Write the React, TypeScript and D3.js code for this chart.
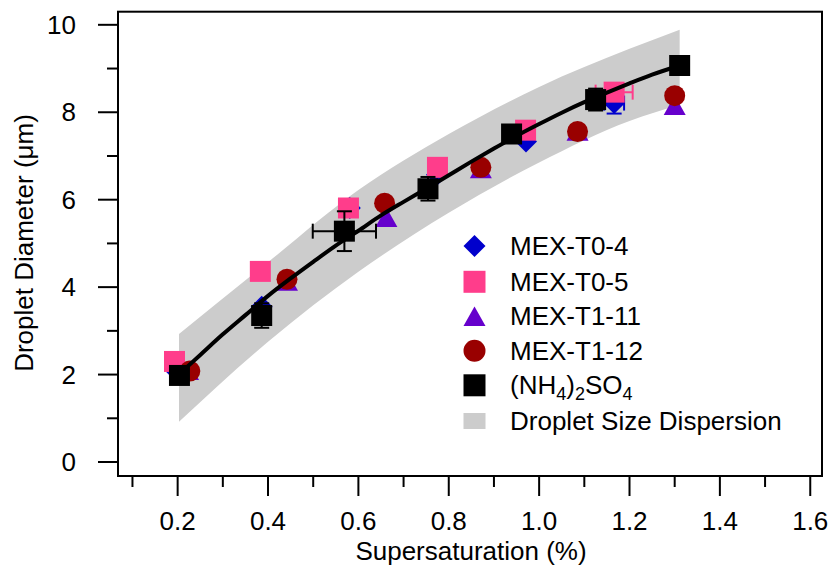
import React from "react";
import * as d3 from "d3";

// Supersaturation (%) and droplet diameter (µm) for each sample
const t04S = [0.199, 0.386, 0.581, 0.774, 0.971, 1.166];
const t04D = [2.06, 3.55, 5.81, 6.57, 7.33, 8.21];
const t04XErr = [0, 0, 0, 0, 0, 0.022];
const t04YErr = [0, 0, 0, 0, 0, 0.24];

const t05S = [0.193, 0.383, 0.578, 0.775, 0.97, 1.166];
const t05D = [2.3, 4.36, 5.81, 6.74, 7.59, 8.46];
const t05XErr = [0, 0, 0, 0, 0, 0.041];

const t111S = [0.223, 0.442, 0.662, 0.871, 1.085, 1.3];
const t111D = [2.1, 4.14, 5.6, 6.71, 7.57, 8.16];

const t112S = [0.227, 0.442, 0.658, 0.871, 1.085, 1.3];
const t112D = [2.08, 4.18, 5.92, 6.74, 7.56, 8.38];

const asS = [0.204, 0.386, 0.569, 0.754, 0.939, 1.125, 1.311];
const asD = [1.98, 3.35, 5.28, 6.25, 7.5, 8.29, 9.07];
const asXErr = [0, 0, 0.07, 0, 0, 0, 0];
const asYErr = [0, 0.28, 0.455, 0.27, 0, 0.25, 0];

// Köhler fit through the ammonium sulfate calibration
const fitS = [0.2, 0.25, 0.3, 0.35, 0.4, 0.45, 0.5, 0.55, 0.6, 0.65, 0.7, 0.75, 0.8, 0.85, 0.9, 0.95, 1.0, 1.05, 1.1, 1.15, 1.2, 1.25, 1.311];
const fitD = [1.98, 2.45, 2.92, 3.36, 3.8, 4.2, 4.58, 4.95, 5.29, 5.64, 5.95, 6.25, 6.56, 6.87, 7.17, 7.46, 7.73, 7.99, 8.23, 8.45, 8.66, 8.86, 9.07];

// Droplet size dispersion envelope
const bandS = [0.203, 0.4, 0.6, 0.8, 1.0, 1.2, 1.311];
const bandUpper = [2.93, 4.57, 6.22, 7.5, 8.58, 9.45, 9.89];
const bandLower = [0.92, 2.75, 4.35, 5.7, 6.85, 7.8, 8.17];

const xMajor = [0.2, 0.4, 0.6, 0.8, 1.0, 1.2, 1.4, 1.6];
const xMinor = [0.1, 0.3, 0.5, 0.7, 0.9, 1.1, 1.3, 1.5];
const yMajor = [0, 2, 4, 6, 8, 10];
const yMinor = [1, 3, 5, 7, 9];

const legendNames = ["MEX-T0-4", "MEX-T0-5", "MEX-T1-11", "MEX-T1-12"];

const W = 828;
const H = 568;
const FONT = "'Liberation Sans', Arial, Helvetica, sans-serif";
const BLUE = "#0000cc";
const PINK = "#ff3d8b";
const PURPLE = "#6600cc";
const RED = "#990000";
const GRAY = "#cccccc";

const x = d3.scaleLinear().domain([0.068, 1.626]).range([118, 822]);
const y = d3.scaleLinear().domain([-0.32, 10.3]).range([476, 11.7]);

const diamond = (cx: number, cy: number, r = 11) =>
  `M${cx},${cy - r}L${cx + r},${cy}L${cx},${cy + r}L${cx - r},${cy}Z`;
const triangle = (cx: number, cy: number) =>
  `M${cx},${cy - 9.7}L${cx + 11},${cy + 9.7}L${cx - 11},${cy + 9.7}Z`;
const square = (cx: number, cy: number, s = 21) =>
  `M${cx - s / 2},${cy - s / 2}h${s}v${s}h${-s}Z`;

function ErrBars({ s, d, xe, ye, color }: { s: number[]; d: number[]; xe?: number[]; ye?: number[]; color: string }) {
  const cap = 7.5;
  return (
    <g stroke={color} strokeWidth={2} fill="none">
      {s.map((sv, i) => {
        const cx = x(sv);
        const cy = y(d[i]);
        const ex = xe ? xe[i] : 0;
        const ey = ye ? ye[i] : 0;
        return (
          <g key={i}>
            {ex > 0 && (
              <>
                <line x1={x(sv - ex)} x2={x(sv + ex)} y1={cy} y2={cy} />
                <line x1={x(sv - ex)} x2={x(sv - ex)} y1={cy - cap} y2={cy + cap} />
                <line x1={x(sv + ex)} x2={x(sv + ex)} y1={cy - cap} y2={cy + cap} />
              </>
            )}
            {ey > 0 && (
              <>
                <line x1={cx} x2={cx} y1={y(d[i] - ey)} y2={y(d[i] + ey)} />
                <line x1={cx - cap} x2={cx + cap} y1={y(d[i] - ey)} y2={y(d[i] - ey)} />
                <line x1={cx - cap} x2={cx + cap} y1={y(d[i] + ey)} y2={y(d[i] + ey)} />
              </>
            )}
          </g>
        );
      })}
    </g>
  );
}

export default function App() {
  const bandData = bandS.map((s, i) => ({ s, lo: bandLower[i], hi: bandUpper[i] }));
  const band = d3
    .area<{ s: number; lo: number; hi: number }>()
    .x((p) => x(p.s))
    .y0((p) => y(p.lo))
    .y1((p) => y(p.hi))
    .curve(d3.curveMonotoneX)(bandData) as string;
  const fit = d3
    .line<number>()
    .x((s) => x(s))
    .y((_, i) => y(fitD[i]))
    .curve(d3.curveMonotoneX)(fitS) as string;

  const legendY = [246, 281.8, 316.3, 350.8, 385.3, 421];
  const lx = 474.5;
  const tx = 510;
  const fs = 26;

  return (
    <svg width={W} height={H} style={{ position: "absolute", left: 0, top: 0, background: "#fff" }} fontFamily={FONT}>
      <rect width={W} height={H} fill="#fff" />
      <path d={band} fill={GRAY} />

      {t04S.map((s, i) => (
        <path key={"b" + i} d={diamond(x(s), y(t04D[i]))} fill={BLUE} />
      ))}
      <ErrBars s={t04S} d={t04D} xe={t04XErr} ye={t04YErr} color={BLUE} />
      {t05S.map((s, i) => (
        <path key={"p" + i} d={square(x(s), y(t05D[i]))} fill={PINK} />
      ))}
      <ErrBars s={t05S} d={t05D} xe={t05XErr} color={PINK} />
      {t111S.map((s, i) => (
        <path key={"t" + i} d={triangle(x(s), y(t111D[i]))} fill={PURPLE} />
      ))}
      {t112S.map((s, i) => (
        <circle key={"c" + i} cx={x(s)} cy={y(t112D[i])} r={10.5} fill={RED} />
      ))}

      <path d={fit} fill="none" stroke="#000" strokeWidth={4} />
      {asS.map((s, i) => (
        <path key={"k" + i} d={square(x(s), y(asD[i]))} fill="#000" />
      ))}
      <ErrBars s={asS} d={asD} xe={asXErr} ye={asYErr} color="#000" />

      {/* frame */}
      <rect x={118} y={11.7} width={704} height={464.3} fill="none" stroke="#000" strokeWidth={2} />

      {/* ticks */}
      <g stroke="#000" strokeWidth={2}>
        {xMajor.map((v) => (
          <line key={"xM" + v} x1={x(v)} x2={x(v)} y1={476} y2={496} />
        ))}
        {xMinor.map((v) => (
          <line key={"xm" + v} x1={x(v)} x2={x(v)} y1={476} y2={487} />
        ))}
        {yMajor.map((v) => (
          <line key={"yM" + v} x1={98} x2={118} y1={y(v)} y2={y(v)} />
        ))}
        {yMinor.map((v) => (
          <line key={"ym" + v} x1={107} x2={118} y1={y(v)} y2={y(v)} />
        ))}
      </g>
      <g fontSize={fs} fill="#000">
        {xMajor.map((v) => (
          <text key={"xl" + v} x={x(v)} y={530} textAnchor="middle">
            {d3.format(".1f")(v)}
          </text>
        ))}
        {yMajor.map((v) => (
          <text key={"yl" + v} x={76} y={y(v) + 9} textAnchor="end">
            {v}
          </text>
        ))}
        <text x={471} y={560} textAnchor="middle">Supersaturation (%)</text>
        <text transform={`translate(33,243) rotate(-90)`} textAnchor="middle">
          Droplet Diameter (μm)
        </text>
      </g>

      {/* legend */}
      <g fontSize={fs} fill="#000">
        <path d={diamond(lx, legendY[0])} fill={BLUE} />
        <path d={square(lx, legendY[1], 22)} fill={PINK} />
        <path d={triangle(lx, legendY[2])} fill={PURPLE} />
        <circle cx={lx} cy={legendY[3]} r={11} fill={RED} />
        <path d={square(lx, legendY[4], 22)} fill="#000" />
        <rect x={lx - 11} y={legendY[5] - 8} width={22} height={16} fill={GRAY} />
        {legendNames.map((n, i) => (
          <text key={n} x={tx} y={legendY[i] + 9}>
            {n}
          </text>
        ))}
        <text x={tx} y={legendY[4] + 9}>
          (NH<tspan fontSize={18} dy={6}>4</tspan>
          <tspan dy={-6}>)</tspan>
          <tspan fontSize={18} dy={6}>2</tspan>
          <tspan dy={-6}>SO</tspan>
          <tspan fontSize={18} dy={6}>4</tspan>
        </text>
        <text x={tx} y={legendY[5] + 9}>Droplet Size Dispersion</text>
      </g>
    </svg>
  );
}
